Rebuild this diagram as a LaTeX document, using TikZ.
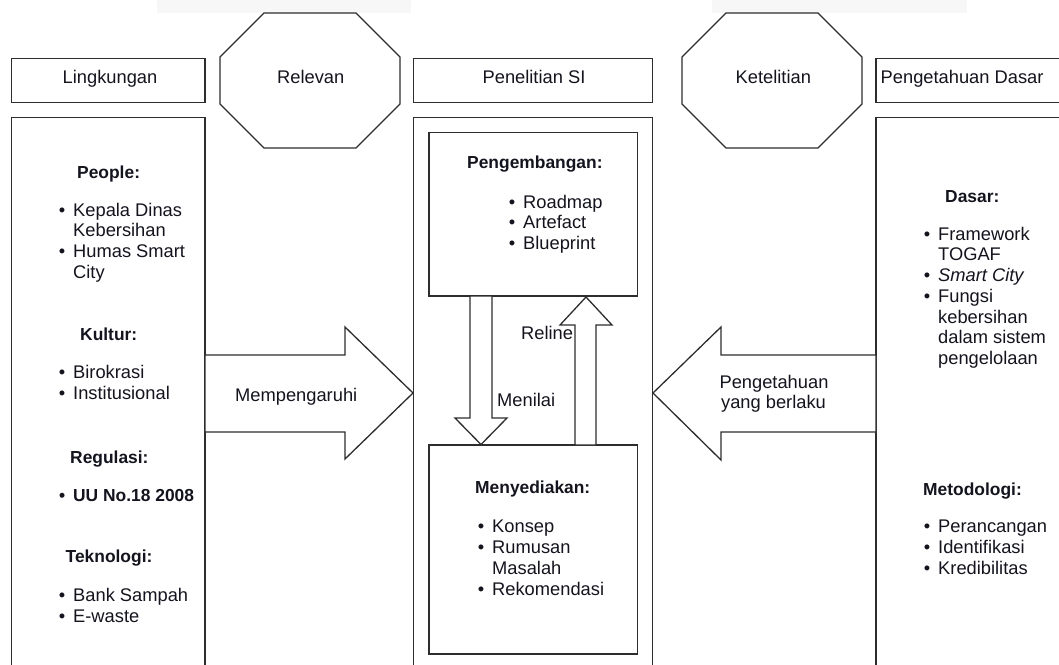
\documentclass[tikz,border=0pt]{standalone}
\usepackage{fontspec}
\setmainfont{Liberation Sans}
\usetikzlibrary{calc}
\definecolor{linec}{RGB}{45,45,45}
\definecolor{txtc}{RGB}{20,20,30}
\newcommand\bul{\llap{\textbullet\hspace{8pt}}}
\begin{document}
\begin{tikzpicture}[x=1pt,y=-1pt,
  ln/.style={draw=linec, line width=1.3pt},
  box/.style={ln, fill=white, inner sep=0pt},
  hidden/.style={inner sep=0pt, outer sep=0pt},
  reg/.style={font=\fontsize{18.3}{20.7}\selectfont, inner sep=0pt, anchor=base west, text=txtc},
  hd/.style={font=\fontsize{17.4}{20.7}\selectfont\bfseries, inner sep=0pt, anchor=base west, text=txtc},
  ttl/.style={font=\fontsize{18.3}{20.7}\selectfont, inner sep=0pt, anchor=base, text=txtc},
]
\useasboundingbox (0,0) rectangle (1059,664);
\clip (0,0) rectangle (1059,664);
% faint bands at the top
\fill[gray!6] (157,0) rectangle (411,12.5);
\fill[gray!6] (712,0) rectangle (967,12.5);

% title boxes
\node[box, minimum width=193.5pt, minimum height=44.4pt] (tL) at (108.25,80.5) {};
\node[box, minimum width=239.2pt, minimum height=44.4pt] (tC) at (533.1,80.5) {};
\node[box, minimum width=199pt, minimum height=44.4pt] (tR) at (975.5,80.5) {};

% big boxes
\node[box, minimum width=193.5pt, minimum height=562.5pt] (bL) at (108.25,398.75) {};
\node[box, minimum width=239.2pt, minimum height=562.5pt] (bC) at (533.1,398.75) {};
\node[box, minimum width=199pt, minimum height=562.5pt] (bR) at (975.5,398.75) {};

% octagons
\newcommand\octa[1]{%
  \draw[ln, fill=white] ([xshift=44pt]#1.north west) -- ([xshift=-44pt]#1.north east)
    -- ([yshift=-44pt]#1.north east) -- ([yshift=44pt]#1.south east)
    -- ([xshift=-44pt]#1.south east) -- ([xshift=44pt]#1.south west)
    -- ([yshift=44pt]#1.south west) -- ([yshift=-44pt]#1.north west) -- cycle;}
\node[hidden, minimum width=180pt, minimum height=135pt] (oRel) at (310,80.5) {};
\node[hidden, minimum width=180pt, minimum height=135pt] (oKet) at (772,80.5) {};
\octa{oRel}
\octa{oKet}

% block arrows
\draw[ln, fill=white] (205,355) -- (345,355) -- (345,327) -- (413,393) -- (345,459) -- (345,432) -- (205,432) -- cycle;
\draw[ln, fill=white] (876,355) -- (721,355) -- (721,327) -- (653,393) -- (721,460) -- (721,432) -- (876,432) -- cycle;

% inner boxes
\node[box, minimum width=208.7pt, minimum height=163.3pt] (iT) at (533.35,214.35) {};
\node[box, minimum width=208.7pt, minimum height=209pt] (iB) at (533.35,549.5) {};

% vertical arrows
\draw[ln, fill=white] (470,296) -- (492,296) -- (492,418) -- (507,418) -- (481,444.5) -- (455,418) -- (470,418) -- cycle;
\draw[ln, fill=white] (575,445) -- (575,325) -- (560,325) -- (586,297) -- (612,325) -- (596,325) -- (596,445) -- cycle;

% titles
\node[ttl] (ttL) at (110,83.3) {Lingkungan};
\node[ttl] (ttRel) at (310.7,83.3) {Relevan};
\node[ttl] (ttC) at (534,83.3) {Penelitian SI};
\node[ttl] (ttKet) at (773.3,83.3) {Ketelitian};
\node[reg] (ttR) at (880.5,83.3) {Pengetahuan Dasar};

% left panel
\node[hd] (l1) at (77,178) {People:};
\node[reg] (l2) at (73,216) {\bul Kepala Dinas};
\node[reg] (l3) at (73,236.7) {Kebersihan};
\node[reg] (l4) at (73,257.4) {\bul Humas Smart};
\node[reg] (l5) at (73,278) {City};
\node[hd] (l6) at (80,340) {Kultur:};
\node[reg] (l7) at (73,378) {\bul Birokrasi};
\node[reg] (l8) at (73,399) {\bul Institusional};
\node[hd] (l9) at (70,463) {Regulasi:};
\node[hd] (l10) at (73,501) {\bul UU No.18 2008};
\node[hd] (l11) at (65.5,562) {Teknologi:};
\node[reg] (l12) at (73,601) {\bul Bank Sampah};
\node[reg] (l13) at (73,622) {\bul E-waste};

% center panel
\node[hd] (c1) at (467,168) {Pengembangan:};
\node[reg] (c2) at (523,208.3) {\bul Roadmap};
\node[reg] (c3) at (523,228.5) {\bul Artefact};
\node[reg] (c4) at (523,249) {\bul Blueprint};
\node[reg] (c5) at (521,339) {Reline};
\node[reg] (c6) at (497,406.7) {Menilai};
\node[hd] (c7) at (475,493) {Menyediakan:};
\node[reg] (c8) at (492,532) {\bul Konsep};
\node[reg] (c9) at (492,553) {\bul Rumusan};
\node[reg] (c10) at (492,574) {Masalah};
\node[reg] (c11) at (492,595.5) {\bul Rekomendasi};

% right panel
\node[hd] (r1) at (945,202) {Dasar:};
\node[reg] (r2) at (938,240) {\bul Framework};
\node[reg] (r3) at (938,260) {TOGAF};
\node[reg] (r4) at (938,281.5) {\bul \itshape Smart City};
\node[reg] (r5) at (938,302) {\bul Fungsi};
\node[reg] (r6) at (938,323) {kebersihan};
\node[reg] (r7) at (938,343.8) {dalam sistem};
\node[reg] (r8) at (938,364.3) {pengelolaan};
\node[hd] (r9) at (923,495) {Metodologi:};
\node[reg] (r10) at (938,532) {\bul Perancangan};
\node[reg] (r11) at (938,553.5) {\bul Identifikasi};
\node[reg] (r12) at (938,574.5) {\bul Kredibilitas};

% arrow labels
\node[reg] (a1) at (235,401.7) {Mempengaruhi};
\node[ttl] (a2) at (774,388.3) {Pengetahuan};
\node[ttl] (a3) at (773.5,408.8) {yang berlaku};
\end{tikzpicture}
\end{document}
